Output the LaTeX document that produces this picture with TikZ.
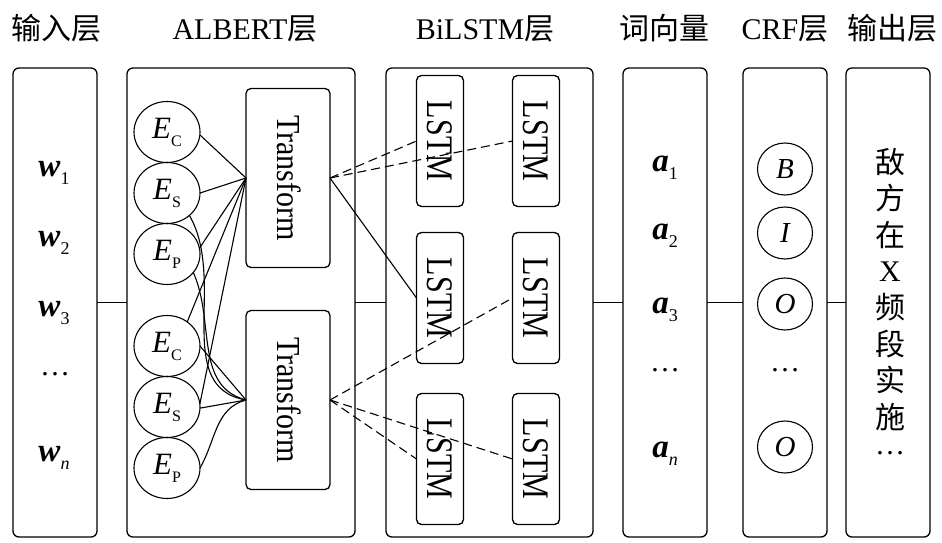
\documentclass[tikz,border=0pt]{standalone}
\usepackage{fontspec}
\setmainfont{Liberation Serif}
\newfontfamily\cjk{Noto Sans CJK SC}
\usetikzlibrary{shapes.geometric}
\newcommand\fs[1]{\fontsize{#1}{#1}\selectfont}
\newcommand\vsub[2]{{\fs{33}#1}\raisebox{-8pt}{\fs{18}#2}}
\newcommand\esub[1]{\textit{E}\raisebox{-8pt}{\fs{16}#1}}
\begin{document}
\begin{tikzpicture}[x=1pt,y=-1pt,
  every node/.style={inner sep=0pt, outer sep=0pt},
  layer/.style={draw, line width=1.3pt, rounded corners=6pt, minimum width=84pt, minimum height=469pt},
  head/.style={anchor=base, font=\fs{30}},
  emb/.style={draw, ellipse, line width=1.1pt, minimum width=66pt, minimum height=61pt, font=\fs{31}},
  tbox/.style={draw, line width=1.3pt, rounded corners=5pt, minimum width=84pt, minimum height=179pt},
  lbox/.style={draw, line width=1.3pt, rounded corners=5pt, minimum width=47pt, minimum height=131pt},
  vtext/.style={rotate=-90, font=\fs{30}},
  tag/.style={draw, ellipse, line width=1.1pt, minimum width=55pt, minimum height=52pt, font=\fs{29}\itshape},
  conn/.style={line width=1.1pt},
  dconn/.style={line width=1.1pt, dash pattern=on 9pt off 5pt},
  vec/.style={anchor=base, font=\fs{30}},
]
\useasboundingbox (0,0) rectangle (942,543);

% headers
\node[head] (h1) at (56,40) {\cjk 输入层};
\node[head] (h2) at (245,40) {ALBERT{\cjk 层}};
\node[head] (h3) at (485,40) {BiLSTM{\cjk 层}};
\node[head] (h4) at (664,40) {\cjk 词向量};
\node[head] (h5) at (785,40) {CRF{\cjk 层}};
\node[head] (h6) at (892,40) {\cjk 输出层};

% layer boxes
\node[layer] (inp) at (55,302.5) {};
\node[layer, minimum width=228pt] (alb) at (241,302.5) {};
\node[layer, minimum width=207pt] (bil) at (489.5,302.5) {};
\node[layer] (wv) at (665,302.5) {};
\node[layer] (crf) at (785,302.5) {};
\node[layer] (out) at (888,302.5) {};

\draw[conn] (inp.east) -- (alb.west);
\draw[conn] (alb.east) -- (bil.west);
\draw[conn] (bil.east) -- (wv.west);
\draw[conn] (wv.east) -- (crf.west);
\draw[conn] (crf.east) -- (out.west);

% input words
\node[vec] (w1) at (54,176) {\vsub{\textbf{\textit{w}}}{1}};
\node[vec] (w2) at (54,246) {\vsub{\textbf{\textit{w}}}{2}};
\node[vec] (w3) at (54,316) {\vsub{\textbf{\textit{w}}}{3}};
\node[vec] (wd) at (55,375) {…};
\node[vec] (wn) at (54,461) {\vsub{\textbf{\textit{w}}}{\textit{n}}};

% ALBERT embeddings
\node[emb] (ec1) at (167,132) {\esub{C}};
\node[emb] (es1) at (167,193) {\esub{S}};
\node[emb] (ep1) at (167,254) {\esub{P}};
\node[emb] (ec2) at (167,346) {\esub{C}};
\node[emb] (es2) at (167,407) {\esub{S}};
\node[emb] (ep2) at (167,468) {\esub{P}};

\node[tbox] (t1) at (288,178) {};
\node[vtext] (t1x) at (289,178) {\scalebox{1}[1.12]{Transform}};
\node[tbox] (t2) at (288,400) {};
\node[vtext] (t2x) at (289,400) {\scalebox{1}[1.12]{Transform}};

\draw[conn] (ec1.-5) -- (t1.west);
\draw[conn] (es1.east) -- (t1.west);
\draw[conn] (ep1.10) -- (t1.west);
\draw[conn] (ec2.50) -- (t1.west);
\draw[conn] (es2.5) -- (t1.west);
\draw[conn] (es1.-45) to[out=-60,in=170] (t2.west);
\draw[conn] (ep1.-35) to[out=-66,in=165] (t2.west);
\draw[conn] (ec2.east) -- (t2.west);
\draw[conn] (es2.-2) -- (t2.west);
\draw[conn] (ep2.east) to[out=60,in=195] (t2.west);

% BiLSTM
\node[lbox] (tl) at (440,141) {};
\node[lbox] (tr) at (536,141) {};
\node[lbox] (ml) at (440,298) {};
\node[lbox] (mr) at (536,298) {};
\node[lbox] (bl) at (440,459) {};
\node[lbox] (br) at (536,459) {};
\foreach \n in {tl,tr,ml,mr,bl,br}
  \node[vtext] (\n x) at (\n) {\scalebox{1}[1.25]{LSTM}};

\draw[dconn] (t1.east) -- (tl.west);
\draw[dconn] (t1.east) -- (tr.west);
\draw[conn] (t1.east) -- (ml.west);
\draw[dconn] (t2.east) -- (mr.west);
\draw[dconn] (t2.east) -- (bl.west);
\draw[dconn] (t2.east) -- (br.west);

% word vectors
\node[vec] (a1) at (665,171) {\vsub{\textbf{\textit{a}}}{1}};
\node[vec] (a2) at (665,239) {\vsub{\textbf{\textit{a}}}{2}};
\node[vec] (a3) at (665,313) {\vsub{\textbf{\textit{a}}}{3}};
\node[vec] (ad) at (665,371) {…};
\node[vec] (an) at (665,457) {\vsub{\textbf{\textit{a}}}{\textit{n}}};

% CRF
\node[tag] (cb) at (785,169) {B};
\node[tag] (ci) at (785,233) {I};
\node[tag] (co) at (785,304) {O};
\node[vec] (cd) at (785,371) {…};
\node[tag] (cn) at (785,447) {O};

% output
\foreach \t [count=\i] in {{\cjk 敌},{\cjk 方},{\cjk 在},X,{\cjk 频},{\cjk 段},{\cjk 实},{\cjk 施},…}
  \node[font=\fs{30}] (o\i) at (890,{162+36.4*(\i-1)}) {\t};
\end{tikzpicture}
\end{document}
